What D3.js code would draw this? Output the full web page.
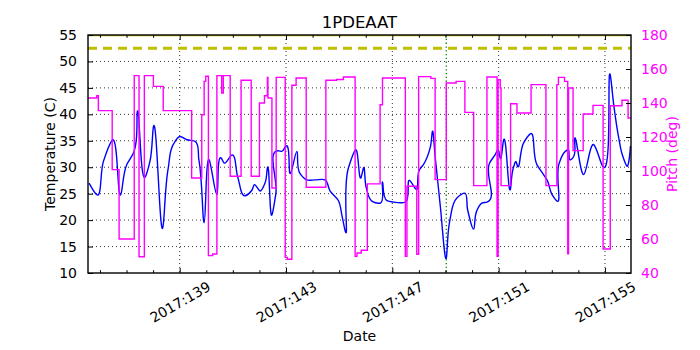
<!DOCTYPE html>
<html>
<head>
<meta charset="utf-8">
<script src="https://cdn.jsdelivr.net/npm/d3@7"></script>
<style>
  html, body { margin: 0; padding: 0; background: #fff; }
  svg { display: block; font-family: "DejaVu Sans", sans-serif; }
</style>
</head>
<body>
<svg id="chart" width="700" height="350"></svg>
<script>
// ---------------- data ----------------
const title = "1PDEAAT";
const xDomain = [135.55, 155.98];
const tempDomain = [10, 55];
const pitchDomain = [40, 180];

const xTickDays = [139, 143, 147, 151, 155];
const xTickLabels = ["2017:139", "2017:143", "2017:147", "2017:151", "2017:155"];
const xMinorDays = [136,137,138,139,140,141,142,143,144,145,146,147,148,149,150,151,152,153,154,155];
const tempTicks = [10, 15, 20, 25, 30, 35, 40, 45, 50, 55];
const pitchTicks = [40, 60, 80, 100, 120, 140, 160, 180];

const tempLimitDashed = 52.5;
const tempLimitSolid = 55;
const markerDay = 149.03;

const tempDays = [135.59,135.88,136.13,136.46,136.78,137.01,137.26,137.41,137.72,137.88,138.01,138.36,138.57,138.76,139.01,139.27,139.58,139.72,139.92,140.11,140.40,140.58,140.67,140.96,141.19,141.46,141.71,141.81,142.03,142.21,142.30,142.47,142.62,142.74,142.84,142.99,143.16,143.41,143.53,143.78,144.10,144.47,144.66,144.97,145.10,145.23,145.35,145.62,145.82,145.92,146.02,146.23,146.54,146.63,146.80,147.05,147.49,147.65,147.90,148.02,148.17,148.43,148.51,148.61,148.80,149.03,149.12,149.18,149.43,149.72,149.83,150.06,150.18,150.37,150.56,150.66,150.87,150.97,151.06,151.19,151.44,151.56,151.65,151.71,151.94,152.19,152.44,152.69,152.82,153.01,153.17,153.28,153.51,153.60,153.70,153.78,153.86,154.20,154.57,154.91,155.20,155.33,155.52,155.65,155.83,155.96];
const tempValues = [27.0,24.8,31.1,35.1,24.8,30.5,32.7,40.6,28.3,31.1,37.6,18.5,29.9,34.3,35.8,35.2,34.9,31.5,19.5,31.4,24.8,31.6,30.8,32.3,28.0,24.6,25.6,26.7,25.5,27.0,29.9,21.0,25.1,33.1,33.0,34.0,28.8,33.0,28.8,27.6,27.6,27.6,25.5,23.7,21.0,17.9,29.9,33.3,28.0,29.9,26.1,23.6,23.2,27.2,23.7,23.4,23.4,27.5,25.8,29.5,30.5,33.8,36.8,32.1,22.9,12.8,18.5,20.4,24.2,25.1,22.0,18.3,21.8,23.2,23.4,30.8,32.4,33.3,31.7,35.2,25.8,30.0,31.1,30.2,34.6,36.3,30.5,28.6,27.6,24.8,23.7,30.8,33.0,33.3,31.4,31.7,35.5,28.6,34.3,30.2,47.4,41.8,35.5,32.4,30.2,34.0];

const pitchDays = [135.55,135.88,135.94,136.46,136.72,137.29,137.47,137.67,138.01,138.38,139.45,139.83,139.92,139.98,140.08,140.24,140.40,140.58,140.64,140.90,141.31,141.69,142.00,142.19,142.30,142.32,142.47,142.63,142.97,143.05,143.22,143.38,143.76,144.50,144.90,145.16,145.60,145.67,145.83,146.06,146.54,146.63,147.49,147.55,147.92,147.99,148.45,148.61,149.03,149.40,149.73,150.06,150.56,150.94,150.98,151.06,151.09,151.45,151.69,152.22,152.78,153.19,153.25,153.48,153.60,153.63,153.80,154.18,154.55,154.93,155.20,155.64,155.87,155.98];
const pitchValues = [142.9,144.3,135.5,100.8,60.0,156.1,49.6,156.1,149.8,135.5,95.9,133.1,152.7,155.7,50.2,51.2,156.1,145.9,156.1,96.9,153.4,96.9,140.0,144.3,155.1,142.9,90.0,155.1,49.2,48.1,150.4,154.7,90.4,153.4,153.8,155.3,49.8,51.8,53.4,92.4,139.0,154.7,49.8,91.0,51.0,155.5,154.5,94.9,151.8,152.7,134.5,91.4,155.3,49.8,153.7,148.8,91.4,139.6,134.1,150.8,91.4,150.8,155.1,152.7,51.3,148.8,112.0,133.5,138.6,54.1,138.4,141.6,131.2,131.2];

// ---------------- layout ----------------
const W = 700, H = 350;
const L = 88, R = 631, T = 35, B = 273;
const svg = d3.select("#chart");

const x = d3.scaleLinear().domain(xDomain).range([L, R]);
const yT = d3.scaleLinear().domain(tempDomain).range([B, T]);
const yP = d3.scaleLinear().domain(pitchDomain).range([B, T]);

svg.append("defs").append("clipPath").attr("id", "clip")
  .append("rect").attr("x", L).attr("y", T).attr("width", R - L).attr("height", B - T);

const plot = svg.append("g").attr("clip-path", "url(#clip)");

// grid
plot.selectAll(".hgrid").data(tempTicks.filter(t => t > tempDomain[0] && t < tempDomain[1]))
  .enter().append("line")
  .attr("x1", L).attr("x2", R)
  .attr("y1", d => yT(d)).attr("y2", d => yT(d))
  .attr("stroke", "#000").attr("stroke-width", 0.8).attr("stroke-dasharray", "1,3");
plot.selectAll(".vgrid").data(xTickDays)
  .enter().append("line")
  .attr("y1", T).attr("y2", B)
  .attr("x1", d => x(d)).attr("x2", d => x(d))
  .attr("stroke", "#000").attr("stroke-width", 0.8).attr("stroke-dasharray", "1,3");

// limit lines
plot.append("line")
  .attr("x1", L).attr("x2", R).attr("y1", yT(tempLimitSolid)).attr("y2", yT(tempLimitSolid))
  .attr("stroke", "#bfbf00").attr("stroke-width", 2.6);
plot.append("line")
  .attr("x1", L).attr("x2", R).attr("y1", yT(tempLimitDashed)).attr("y2", yT(tempLimitDashed))
  .attr("stroke", "#bfbf00").attr("stroke-width", 3).attr("stroke-dasharray", "9,6");

// marker
plot.append("line")
  .attr("x1", x(markerDay)).attr("x2", x(markerDay)).attr("y1", T).attr("y2", B)
  .attr("stroke", "#008000").attr("stroke-width", 1.3).attr("stroke-dasharray", "1.3,2.5");

// temperature
const tempData = tempDays.map((d, i) => [d, tempValues[i]]);
plot.append("path").datum(tempData)
  .attr("fill", "none").attr("stroke", "#0000ff").attr("stroke-width", 1.4)
  .attr("stroke-linejoin", "round")
  .attr("d", d3.line().x(d => x(d[0])).y(d => yT(d[1])).curve(d3.curveCatmullRom.alpha(1)));

// pitch
const pitchData = pitchDays.map((d, i) => [d, pitchValues[i]]);
plot.append("path").datum(pitchData)
  .attr("fill", "none").attr("stroke", "#ff00ff").attr("stroke-width", 1.4)
  .attr("d", d3.line().x(d => x(d[0])).y(d => yP(d[1])).curve(d3.curveStepAfter));

// axes (inward ticks)
const tickLen = 5, minorLen = 2.8;
const axG = svg.append("g");
// left
const leftAx = d3.axisLeft(yT).tickValues(tempTicks).tickSizeInner(-tickLen).tickSizeOuter(0).tickPadding(tickLen + 6);
axG.append("g").attr("transform", `translate(${L},0)`).call(leftAx)
  .call(g => g.select(".domain").remove())
  .call(g => g.selectAll("text").attr("font-size", 14).attr("fill", "#000").attr("font-family", "DejaVu Sans"))
  .call(g => g.selectAll("line").attr("stroke", "#000"));
// right
const rightAx = d3.axisRight(yP).tickValues(pitchTicks).tickSizeInner(-tickLen).tickSizeOuter(0).tickPadding(tickLen + 5);
axG.append("g").attr("transform", `translate(${R},0)`).call(rightAx)
  .call(g => g.select(".domain").remove())
  .call(g => g.selectAll("text").attr("font-size", 14).attr("fill", "#ff00ff").attr("font-family", "DejaVu Sans"))
  .call(g => g.selectAll("line").attr("stroke", "#000"));
// bottom major
const botAx = d3.axisBottom(x).tickValues(xTickDays).tickSizeInner(-tickLen).tickSizeOuter(0).tickFormat((d, i) => xTickLabels[i]);
const botG = axG.append("g").attr("transform", `translate(0,${B})`).call(botAx);
botG.select(".domain").remove();
botG.selectAll("line").attr("stroke", "#000");
botG.selectAll("text")
  .attr("font-size", 14).attr("font-family", "DejaVu Sans").attr("fill", "#000")
  .attr("y", 0).attr("dy", null)
  .attr("text-anchor", "middle").attr("dominant-baseline", "central")
  .attr("transform", "translate(0,29) rotate(-30)");
// bottom minor
axG.append("g").attr("transform", `translate(0,${B})`)
  .call(d3.axisBottom(x).tickValues(xMinorDays.filter(d => !xTickDays.includes(d))).tickSizeInner(-minorLen).tickSizeOuter(0).tickFormat(""))
  .call(g => g.select(".domain").remove())
  .call(g => g.selectAll("line").attr("stroke", "#000"));
// top major + minor
axG.append("g").attr("transform", `translate(0,${T})`)
  .call(d3.axisTop(x).tickValues(xTickDays).tickSizeInner(-tickLen).tickSizeOuter(0).tickFormat(""))
  .call(g => g.select(".domain").remove())
  .call(g => g.selectAll("line").attr("stroke", "#000"));
axG.append("g").attr("transform", `translate(0,${T})`)
  .call(d3.axisTop(x).tickValues(xMinorDays.filter(d => !xTickDays.includes(d))).tickSizeInner(-minorLen).tickSizeOuter(0).tickFormat(""))
  .call(g => g.select(".domain").remove())
  .call(g => g.selectAll("line").attr("stroke", "#000"));

// frame
svg.append("rect").attr("x", L).attr("y", T).attr("width", R - L).attr("height", B - T)
  .attr("fill", "none").attr("stroke", "#000").attr("stroke-width", 1.4);

// labels
svg.append("text").attr("x", (L + R) / 2).attr("y", 28).attr("text-anchor", "middle")
  .attr("font-size", 16.5).attr("fill", "#000").text(title);
svg.append("text").attr("x", (L + R) / 2).attr("y", 341).attr("text-anchor", "middle")
  .attr("font-size", 14).attr("fill", "#000").text("Date");
svg.append("text").attr("transform", `translate(55,${(T + B) / 2}) rotate(-90)`).attr("text-anchor", "middle")
  .attr("font-size", 14).attr("fill", "#000").text("Temperature (C)");
svg.append("text").attr("transform", `translate(677,${(T + B) / 2}) rotate(-90)`).attr("text-anchor", "middle")
  .attr("font-size", 14).attr("fill", "#ff00ff").text("Pitch (deg)");
</script>
</body>
</html>
